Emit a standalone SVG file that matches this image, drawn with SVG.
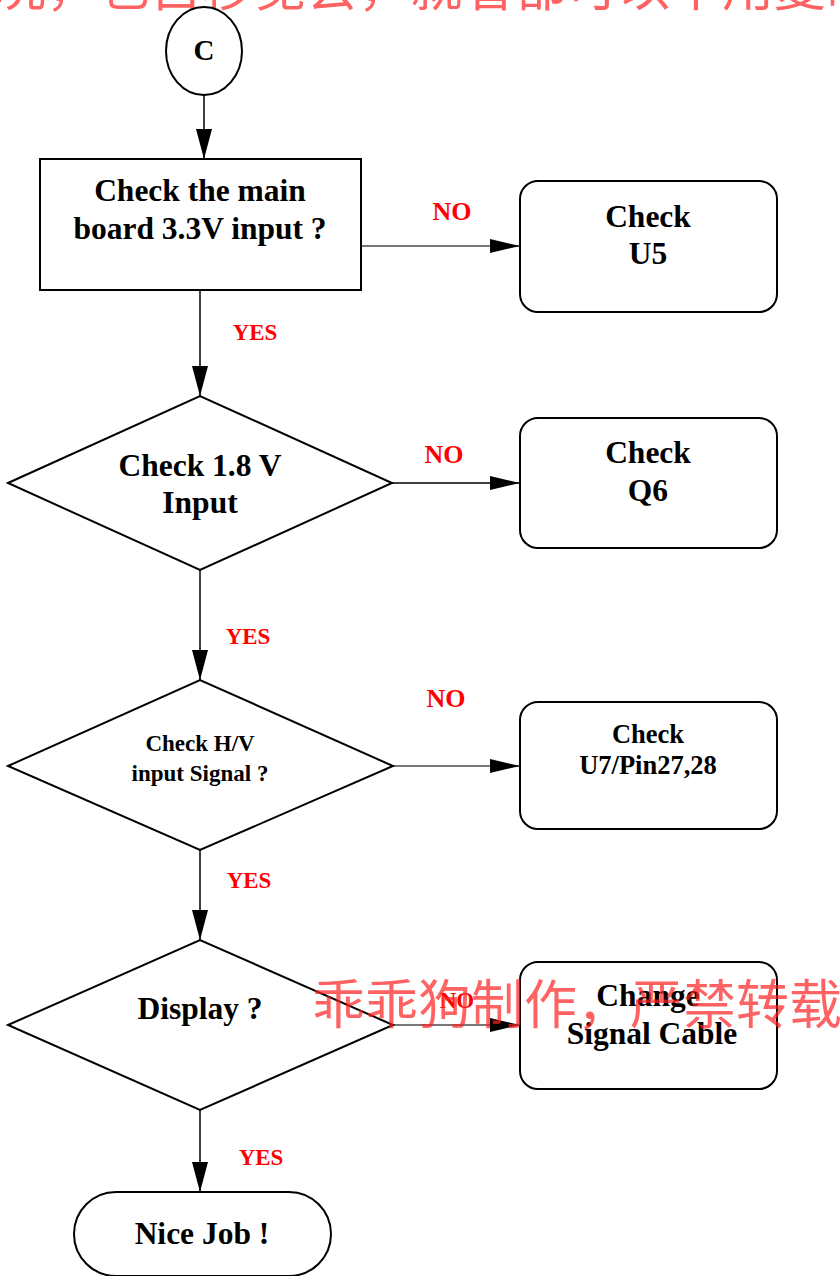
<svg xmlns="http://www.w3.org/2000/svg" width="840" height="1276" viewBox="0 0 840 1276">
<style>
.n{fill:#fff;stroke:#000;stroke-width:2}
.t{font-family:"Liberation Serif","Times New Roman",serif;font-weight:bold;fill:#000;text-anchor:middle}
.l{font-family:"Liberation Serif","Times New Roman",serif;font-weight:bold;fill:#f00;text-anchor:middle}
.c{fill:none;stroke:#000;stroke-width:1.5}
.g{fill:none;stroke:#777;stroke-width:2}
.wm{font-family:"Noto Sans CJK SC",sans-serif;fill:#ff2020;fill-opacity:0.7}
</style>
<defs>
<marker id="ah" viewBox="0 0 10 10" refX="10" refY="5" markerWidth="30" markerHeight="14" markerUnits="userSpaceOnUse" orient="auto" preserveAspectRatio="none"><path d="M0,0L10,5L0,10z" fill="#000"/></marker>
<marker id="av" viewBox="0 0 10 10" refX="10" refY="5" markerWidth="30" markerHeight="16" markerUnits="userSpaceOnUse" orient="auto" preserveAspectRatio="none"><path d="M0,0L10,5L0,10z" fill="#000"/></marker>
</defs>
<text class="wm" x="-6" y="6" font-size="52">况，也自移觉会，就看都可以不用复制</text>
<g id="connectors">
<line class="c" x1="204" y1="95" x2="204" y2="159" marker-end="url(#av)"/>
<line class="g" x1="361" y1="246" x2="520" y2="246" marker-end="url(#ah)"/>
<line class="c" x1="200" y1="291" x2="200" y2="396" marker-end="url(#av)"/>
<line class="c" x1="392" y1="483" x2="520" y2="483" stroke-width="2" marker-end="url(#ah)"/>
<line class="c" x1="200" y1="570" x2="200" y2="680" marker-end="url(#av)"/>
<line class="g" x1="393" y1="766" x2="520" y2="766" marker-end="url(#ah)"/>
<line class="c" x1="200" y1="850" x2="200" y2="940" marker-end="url(#av)"/>
<line class="g" x1="393" y1="1025" x2="520" y2="1025" marker-end="url(#ah)"/>
<line class="c" x1="200" y1="1110" x2="200" y2="1192" marker-end="url(#av)"/>
<text class="l" x="452" y="220" font-size="26">NO</text>
<text class="l" x="255" y="340" font-size="23">YES</text>
<text class="l" x="444" y="463" font-size="26">NO</text>
<text class="l" x="248" y="644" font-size="23">YES</text>
<text class="l" x="446" y="707" font-size="26">NO</text>
<text class="l" x="249" y="888" font-size="23">YES</text>
<text class="l" x="457" y="1008" font-size="23">NO</text>
<text class="l" x="261" y="1165" font-size="23">YES</text>
</g>
<g id="start">
<ellipse class="n" cx="204" cy="51" rx="38" ry="44"/>
<text class="t" x="204" y="60" font-size="29">C</text>
</g>
<g id="check33">
<rect class="n" x="40" y="159" width="321" height="131"/>
<text class="t" x="200" y="201" font-size="31.5">Check the main</text>
<text class="t" x="200" y="239" font-size="31.5">board 3.3V input ?</text>
</g>
<g id="checkU5">
<rect class="n" x="520" y="181" width="257" height="131" rx="18"/>
<text class="t" x="648" y="227" font-size="31.5">Check</text>
<text class="t" x="648" y="264" font-size="31.5">U5</text>
</g>
<g id="check18">
<polygon class="n" points="8,483 200,396 392,483 200,570"/>
<text class="t" x="200" y="476" font-size="31.5">Check 1.8 V</text>
<text class="t" x="200" y="513" font-size="31.5">Input</text>
</g>
<g id="checkQ6">
<rect class="n" x="520" y="418" width="257" height="130" rx="18"/>
<text class="t" x="648" y="463" font-size="31.5">Check</text>
<text class="t" x="648" y="501" font-size="31.5">Q6</text>
</g>
<g id="checkHV">
<polygon class="n" points="8,766 200,680 393,766 200,850"/>
<text class="t" x="200" y="751" font-size="23">Check H/V</text>
<text class="t" x="200" y="781" font-size="23">input Signal ?</text>
</g>
<g id="checkU7">
<rect class="n" x="520" y="702" width="257" height="127" rx="18"/>
<text class="t" x="648" y="743" font-size="26.5">Check</text>
<text class="t" x="648" y="774" font-size="26.5">U7/Pin27,28</text>
</g>
<g id="display">
<polygon class="n" points="8,1025 200,940 393,1025 200,1110"/>
<text class="t" x="200" y="1019" font-size="31.5">Display ?</text>
</g>
<g id="change">
<rect class="n" x="520" y="962" width="257" height="127" rx="18"/>
<text class="t" x="648" y="1006" font-size="31.5">Change</text>
<text class="t" x="652" y="1044" font-size="31.5">Signal Cable</text>
</g>
<g id="nice">
<rect class="n" x="74" y="1192" width="257" height="84" rx="42"/>
<text class="t" x="202" y="1244" font-size="31.5">Nice Job !</text>
</g>
<text class="wm" x="312" y="1024" font-size="53">乖乖狗制作，严禁转载</text>
</svg>
